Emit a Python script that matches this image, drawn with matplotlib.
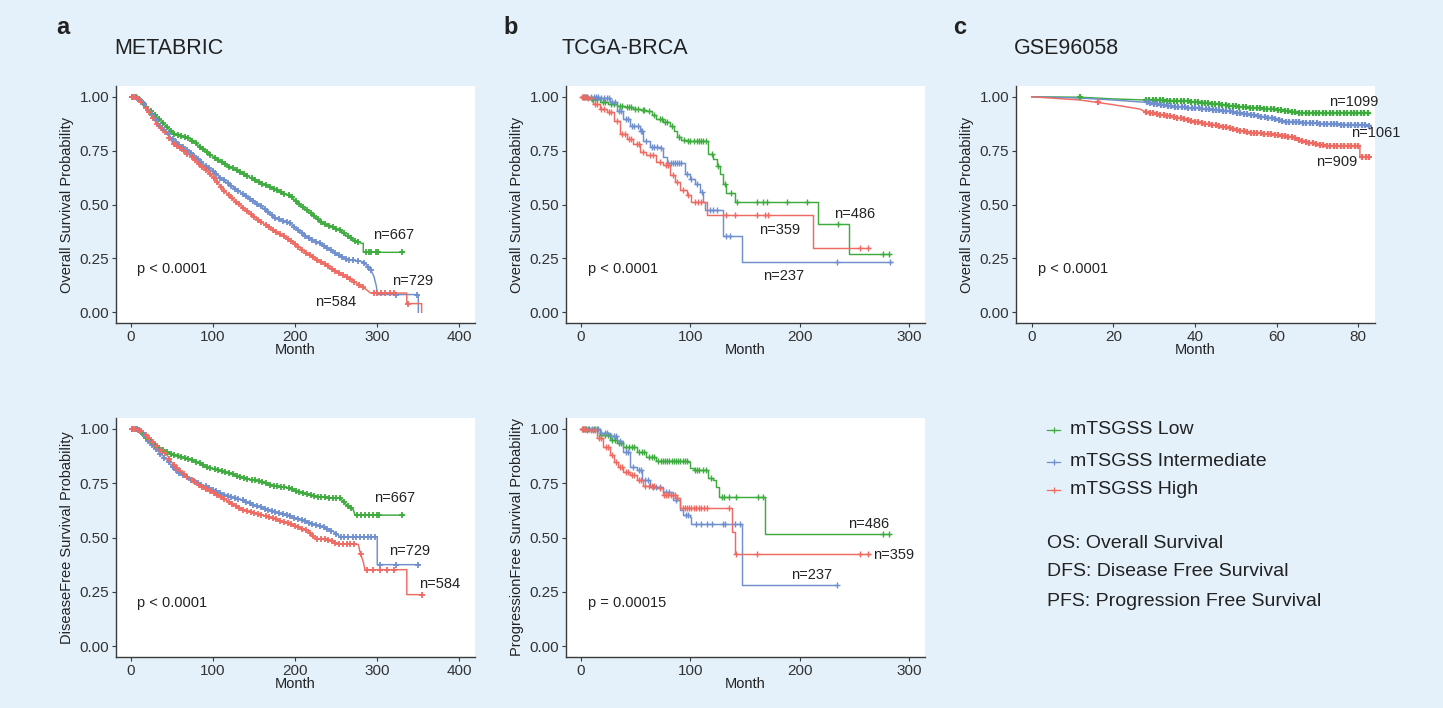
import numpy as np
import matplotlib
matplotlib.use("Agg")
import matplotlib.pyplot as plt
from matplotlib.lines import Line2D

plt.rcParams['font.family'] = ['Liberation Sans', 'DejaVu Sans']

# ---------------- data ----------------
groups = ['mTSGSS Low', 'mTSGSS Intermediate', 'mTSGSS High']
notes = ['OS: Overall Survival', 'DFS: Disease Free Survival', 'PFS: Progression Free Survival']
ytick_vals = [0.0, 0.25, 0.5, 0.75, 1.0]
ytick_labels = ['0.00', '0.25', '0.50', '0.75', '1.00']

# --- a: METABRIC OS ---
a_os_low_t = [0, 5, 12, 23.5, 35, 44, 52, 60, 72, 82, 92.5, 103, 113, 123, 133, 143, 153, 164, 174, 184, 194,
              204, 214, 224, 234, 245, 255, 263, 271, 281, 283, 283, 332]
a_os_low_s = [1.0, 1.0, 0.985, 0.935, 0.895, 0.86, 0.83, 0.82, 0.805, 0.775, 0.743, 0.715, 0.69, 0.67, 0.65,
              0.63, 0.61, 0.59, 0.574, 0.555, 0.54, 0.505, 0.474, 0.445, 0.412, 0.395, 0.38, 0.355, 0.335, 0.32,
              0.32, 0.278, 0.278]
a_os_low_c = [2, 6, 10, 15, 19, 24, 29, 34, 39, 44, 49, 53, 57, 61, 66, 70, 75, 79, 84, 88, 93, 97, 102, 106,
              111, 115, 120, 124, 129, 133, 138, 142, 147, 151, 156, 160, 165, 169, 174, 178, 183, 187, 192, 196,
              201, 205, 210, 214, 219, 223, 228, 232, 237, 241, 246, 250, 255, 259, 264, 268, 273, 277, 286, 290,
              293, 298, 301, 330]
a_os_int_t = [0, 5, 12, 23.5, 35, 44, 52, 62, 72, 82, 92.5, 103, 113, 123, 133, 143, 153, 164, 174, 184, 194,
              204, 214, 224, 234, 245, 255, 265, 281, 285, 292, 296, 299, 300, 350, 350]
a_os_int_s = [1.0, 1.0, 0.985, 0.928, 0.87, 0.835, 0.797, 0.77, 0.743, 0.71, 0.674, 0.645, 0.612, 0.585, 0.558,
              0.532, 0.505, 0.475, 0.443, 0.425, 0.412, 0.38, 0.35, 0.33, 0.312, 0.285, 0.258, 0.245, 0.235,
              0.228, 0.197, 0.166, 0.12, 0.082, 0.082, 0.0]
a_os_int_c = [3, 7, 11, 16, 21, 26, 31, 36, 41, 46, 51, 55, 59, 64, 68, 73, 77, 82, 86, 91, 95, 100, 104, 109,
              113, 118, 122, 127, 131, 136, 140, 145, 149, 154, 158, 163, 167, 172, 176, 181, 185, 190, 194, 199,
              203, 208, 212, 217, 221, 226, 230, 235, 239, 244, 248, 253, 257, 262, 266, 271, 276, 284, 289, 292,
              323, 349]
a_os_high_t = [0, 5, 12, 23.5, 35, 44, 52, 62, 72, 82, 92.5, 103, 113, 123, 133, 143, 153, 164, 174, 184, 194,
               204, 214, 224, 234, 245, 255, 265, 275, 285, 292, 336, 336, 354, 354]
a_os_high_s = [1.0, 1.0, 0.98, 0.92, 0.86, 0.828, 0.78, 0.755, 0.728, 0.69, 0.658, 0.615, 0.566, 0.53, 0.497,
               0.465, 0.435, 0.405, 0.38, 0.357, 0.335, 0.305, 0.274, 0.25, 0.228, 0.2, 0.18, 0.158, 0.135, 0.11,
               0.089, 0.089, 0.04, 0.04, 0.0]
a_os_high_c = [1, 5, 9, 13, 18, 22, 27, 32, 37, 42, 47, 52, 56, 60, 65, 69, 74, 78, 83, 87, 92, 96, 101, 105,
               110, 114, 119, 123, 128, 132, 137, 141, 146, 150, 155, 159, 164, 168, 173, 177, 182, 186, 191, 195,
               200, 204, 209, 213, 218, 222, 227, 231, 236, 240, 245, 249, 254, 258, 263, 267, 272, 278, 283, 296,
               300, 305, 310, 316, 320, 338]

# --- a: METABRIC DFS ---
a_dfs_low_t = [0, 5, 12, 23.5, 35, 44, 52, 62, 72, 82, 92.5, 103, 113, 123, 133, 143, 153, 164, 174, 184, 194,
               204, 214, 224, 234, 245, 255, 263, 268, 271, 273, 332]
a_dfs_low_s = [1.0, 1.0, 0.99, 0.94, 0.91, 0.895, 0.88, 0.87, 0.86, 0.845, 0.823, 0.812, 0.803, 0.792, 0.78,
               0.77, 0.762, 0.75, 0.737, 0.733, 0.726, 0.712, 0.698, 0.69, 0.685, 0.682, 0.68, 0.649, 0.635,
               0.626, 0.603, 0.603]
a_dfs_low_c = [2, 6, 10, 15, 19, 24, 29, 34, 39, 44, 49, 53, 57, 61, 66, 70, 75, 79, 84, 88, 93, 97, 102, 106,
               111, 115, 120, 124, 129, 133, 138, 142, 147, 151, 156, 160, 165, 169, 174, 178, 183, 187, 192, 196,
               201, 205, 210, 214, 219, 223, 228, 232, 237, 241, 246, 250, 255, 259, 264, 268, 275, 280, 285,
               290, 295, 300, 302, 330]
a_dfs_int_t = [0, 5, 12, 23.5, 35, 44, 52, 62, 72, 82, 92.5, 103, 113, 123, 133, 143, 153, 164, 174, 184, 194,
               204, 214, 224, 234, 247, 255, 300, 300, 352]
a_dfs_int_s = [1.0, 1.0, 0.99, 0.934, 0.89, 0.857, 0.818, 0.79, 0.768, 0.75, 0.734, 0.715, 0.695, 0.685, 0.675,
               0.66, 0.645, 0.632, 0.618, 0.608, 0.598, 0.585, 0.572, 0.56, 0.549, 0.526, 0.503, 0.503, 0.375,
               0.375]
a_dfs_int_c = [3, 7, 11, 16, 21, 26, 31, 36, 41, 46, 51, 55, 59, 64, 68, 73, 77, 82, 86, 91, 95, 100, 104, 109,
               113, 118, 122, 127, 131, 136, 140, 145, 149, 154, 158, 163, 167, 172, 176, 181, 185, 190, 194, 199,
               203, 208, 212, 217, 221, 226, 230, 235, 239, 244, 250, 256, 260, 265, 270, 274, 279, 284, 289,
               293, 297, 303, 323, 350]
a_dfs_high_t = [0, 5, 14, 23.5, 35, 44, 52, 62, 72, 82, 92.5, 103, 113, 123, 133, 143, 153, 164, 174, 184, 194,
                204, 214, 226, 243, 251, 277, 279, 283, 285, 336, 336, 356]
a_dfs_high_s = [1.0, 1.0, 0.99, 0.952, 0.91, 0.88, 0.834, 0.8, 0.772, 0.745, 0.721, 0.7, 0.68, 0.655, 0.634,
                0.62, 0.611, 0.6, 0.588, 0.575, 0.562, 0.548, 0.534, 0.495, 0.488, 0.472, 0.468, 0.434, 0.388,
                0.352, 0.352, 0.237, 0.237]
a_dfs_high_c = [1, 5, 9, 13, 18, 22, 27, 32, 37, 42, 47, 52, 56, 60, 65, 69, 74, 78, 83, 87, 92, 96, 101, 105,
                110, 114, 119, 123, 128, 132, 137, 141, 146, 150, 155, 159, 164, 168, 173, 177, 182, 186, 191, 195,
                200, 204, 209, 213, 218, 222, 227, 231, 236, 240, 245, 249, 254, 258, 263, 267, 272, 280, 288,
                295, 303, 312, 320, 354]

# --- b: TCGA-BRCA OS ---
b_os_low_t = [0, 8, 17.6, 25, 33, 40, 48, 55, 60, 65, 69, 75, 81.5, 85, 87.6, 92, 96.7, 116, 121, 124, 127,
              130, 133, 141, 217, 245, 282]
b_os_low_s = [1.0, 0.99, 0.978, 0.965, 0.958, 0.952, 0.943, 0.94, 0.935, 0.915, 0.897, 0.885, 0.866, 0.84,
              0.812, 0.8, 0.794, 0.735, 0.712, 0.68, 0.643, 0.597, 0.555, 0.512, 0.41, 0.27, 0.27]
b_os_low_c = [3, 6, 10, 13, 15, 20, 22, 28, 30, 36, 38, 42, 44, 46, 50, 52, 57, 58, 62, 67, 72, 74, 77, 79, 83,
              90, 94, 98, 100, 103, 106, 108, 110, 112, 114, 120, 125, 132, 137, 143, 161, 166, 170, 188, 207,
              235, 276, 281]
b_os_int_t = [0, 8.5, 17.6, 27, 33, 39, 45, 54, 57, 63, 72, 75.5, 78.5, 95, 100, 104, 109, 112, 113.5, 130,
              147, 284]
b_os_int_s = [1.0, 1.0, 0.994, 0.974, 0.935, 0.897, 0.866, 0.843, 0.797, 0.766, 0.763, 0.72, 0.692, 0.643, 0.62,
              0.597, 0.558, 0.512, 0.474, 0.354, 0.235, 0.235]
b_os_int_c = [2, 5, 9, 12, 14, 16, 19, 21, 24, 26, 29, 31, 35, 37, 41, 43, 47, 49, 52, 55, 56, 60, 65, 67, 70,
              73, 80, 82, 84, 86, 88, 90, 92, 97, 101, 106, 111, 118, 121, 124, 133, 136, 234, 282]
b_os_high_t = [0, 5.5, 11.6, 17.6, 23.7, 30, 36, 42, 48, 54, 60, 69, 75.5, 81.5, 86, 90.7, 96.7, 101, 115, 212,
               264]
b_os_high_s = [1.0, 0.994, 0.966, 0.943, 0.928, 0.889, 0.828, 0.805, 0.782, 0.743, 0.728, 0.697, 0.682, 0.635,
               0.605, 0.566, 0.543, 0.512, 0.45, 0.30, 0.30]
b_os_high_c = [1, 3, 4, 7, 9, 13, 15, 19, 21, 26, 28, 33, 38, 40, 44, 46, 51, 53, 57, 63, 66, 72, 78, 80, 84,
               88, 93, 98, 104, 107, 110, 133, 141, 161, 168, 171, 255, 262]

# --- b: TCGA-BRCA PFS ---
b_pfs_low_t = [0, 8.5, 17.6, 27, 33, 39, 51, 60, 69, 98, 100, 103, 116.5, 121, 123.5, 126.5, 168, 282]
b_pfs_low_s = [1.0, 0.998, 0.972, 0.949, 0.934, 0.918, 0.895, 0.872, 0.852, 0.849, 0.818, 0.811, 0.772, 0.765,
               0.734, 0.688, 0.515, 0.515]
b_pfs_low_c = [2, 5, 8, 12, 15, 19, 22, 25, 29, 31, 35, 37, 41, 44, 47, 49, 53, 56, 58, 62, 65, 67, 71, 73, 75,
               77, 79, 81, 83, 85, 87, 89, 91, 93, 95, 97, 104, 106, 108, 112, 114, 119, 129, 131, 135, 142, 162,
               166, 276, 281]
b_pfs_int_t = [0, 8.5, 17.6, 27, 33, 39, 45, 51, 56, 63, 75.5, 84.6, 90.7, 93.7, 100, 101, 147, 234]
b_pfs_int_s = [1.0, 0.998, 0.98, 0.965, 0.942, 0.895, 0.826, 0.811, 0.765, 0.734, 0.711, 0.672, 0.626, 0.603,
               0.595, 0.562, 0.28, 0.28]
b_pfs_int_c = [2, 4, 7, 10, 13, 16, 19, 22, 24, 28, 30, 32, 36, 41, 43, 48, 53, 55, 59, 61, 66, 69, 72, 78, 81,
               87, 96, 98, 105, 110, 115, 120, 130, 132, 141, 145, 234]
b_pfs_high_t = [0, 5.5, 14.6, 20.7, 27, 30, 34, 39, 45, 51, 57, 69, 75.5, 87.6, 90.7, 138, 141, 264]
b_pfs_high_s = [1.0, 0.995, 0.957, 0.918, 0.88, 0.849, 0.826, 0.803, 0.788, 0.765, 0.737, 0.726, 0.695, 0.68,
                0.634, 0.526, 0.423, 0.423]
b_pfs_high_c = [1, 3, 4, 6, 9, 11, 13, 17, 19, 23, 25, 29, 32, 36, 38, 41, 43, 47, 49, 53, 55, 59, 62, 65, 67,
                72, 76, 78, 80, 82, 84, 86, 88, 93, 95, 97, 99, 101, 103, 105, 108, 110, 113, 115, 135, 142, 161,
                255, 262]

# --- c: GSE96058 OS ---
c_os_low_t = [0, 11.8, 20, 28, 38, 43, 48, 54, 59, 64, 66, 83]
c_os_low_s = [1.0, 0.998, 0.99, 0.985, 0.98, 0.97, 0.96, 0.948, 0.943, 0.93, 0.923, 0.923]
c_os_low_c = [11.8, 28, 28.8, 29.7, 30.5, 31.4, 32.2, 33.1, 33.9, 34.8, 35.6, 36.5, 37.3, 38.2, 39, 39.9, 40.7,
              41.6, 42.4, 43.3, 44.1, 45, 45.8, 46.7, 47.5, 48.4, 49.2, 50.1, 50.9, 51.8, 52.6, 53.5, 54.3, 55.2,
              56, 56.9, 57.7, 58.6, 59.4, 60.3, 61.1, 62, 62.8, 63.7, 64.5, 65.4, 66.2, 67.1, 67.9, 68.8, 69.6,
              70.5, 71.3, 72.2, 73, 73.9, 74.7, 75.6, 76.4, 77.3, 78.1, 79, 79.8, 80.7, 81.5, 82.4]
c_os_int_t = [0, 11.8, 20, 28, 34.7, 43, 48.6, 54, 59, 61.6, 67, 72, 83]
c_os_int_s = [1.0, 0.994, 0.985, 0.974, 0.955, 0.943, 0.932, 0.915, 0.9, 0.885, 0.88, 0.874, 0.866]
c_os_int_c = [28.2, 29, 29.9, 30.7, 31.6, 32.4, 33.3, 34.1, 35, 35.8, 36.7, 37.5, 38.4, 39.2, 40.1, 40.9, 41.8,
              42.6, 43.5, 44.3, 45.2, 46, 46.9, 47.7, 48.6, 49.4, 50.3, 51.1, 52, 52.8, 53.7, 54.5, 55.4, 56.2,
              57.1, 57.9, 58.8, 59.6, 60.5, 61.3, 62.2, 63, 63.9, 64.7, 65.6, 66.4, 67.3, 68.1, 69, 69.8, 70.7,
              71.5, 72.4, 73.2, 74.1, 74.9, 75.8, 76.6, 77.5, 78.3, 79.2, 80, 80.9, 81.7, 82.6]
c_os_high_t = [0, 11.8, 16, 20, 26.5, 28, 34.7, 41, 48, 52.7, 59, 64, 67, 72, 74, 80.4, 80.4, 83]
c_os_high_s = [1.0, 0.985, 0.974, 0.963, 0.943, 0.928, 0.908, 0.88, 0.858, 0.835, 0.825, 0.812, 0.79, 0.774,
               0.77, 0.77, 0.72, 0.72]
c_os_high_c = [16.2, 28.1, 28.9, 29.8, 30.6, 31.5, 32.3, 33.2, 34, 34.9, 35.7, 36.6, 37.4, 38.3, 39.1, 40, 40.8,
               41.7, 42.5, 43.4, 44.2, 45.1, 45.9, 46.8, 47.6, 48.5, 49.3, 50.2, 51, 51.9, 52.7, 53.6, 54.4, 55.3,
               56.1, 57, 57.8, 58.7, 59.5, 60.4, 61.2, 62.1, 62.9, 63.8, 64.6, 65.5, 66.3, 67.2, 68, 68.9, 69.7,
               70.6, 71.4, 72.3, 73.1, 74, 74.8, 75.7, 76.5, 77.4, 78.2, 79.1, 79.9, 81, 81.8, 82.6]

# ---------------- style ----------------
W, H = 1443, 708
BG = '#e4f1fa'
COLORS = ['#3dab3d', '#6f8fcf', '#ee6b63']
TXT = '#222222'
AX_COL = '#3a3a3a'


def px_rect(x0, y0, x1, y1):
    return [x0 / W, 1 - y1 / H, (x1 - x0) / W, (y1 - y0) / H]


def surv_at(tc, ts, ss, step):
    tc = np.asarray(tc, float)
    ts = np.asarray(ts, float)
    ss = np.asarray(ss, float)
    if step:
        idx = np.searchsorted(ts, tc, side='right') - 1
        return ss[np.clip(idx, 0, len(ss) - 1)]
    return np.interp(tc, ts, ss)


def draw_panel(ax, curves, step, xlim, xticks, ylabel, ptext, labels, ms=4.5, mew=1.3):
    for (ts, ss, cs), col in zip(curves, COLORS):
        ax.plot(ts, ss, color=col, lw=1.05, drawstyle='steps-post' if step else 'default', zorder=2)
        ax.plot(cs, surv_at(cs, ts, ss, step), ls='none', marker='+', ms=ms, mew=mew, color=col, zorder=3)
    ax.set_xlim(*xlim)
    ax.set_ylim(-0.05, 1.05)
    ax.set_facecolor('white')
    for s in ['top', 'right']:
        ax.spines[s].set_visible(False)
    for s in ['left', 'bottom']:
        ax.spines[s].set_color(AX_COL)
        ax.spines[s].set_linewidth(1.0)
    ax.set_yticks(ytick_vals)
    ax.set_yticklabels(ytick_labels)
    ax.set_xticks(xticks)
    ax.tick_params(length=3, width=0.8, color=AX_COL, labelsize=11, labelcolor='#333333', pad=2)
    ax.set_xlabel('Month', fontsize=10.5, labelpad=-1, color=TXT)
    ax.set_ylabel(ylabel, fontsize=10.5, labelpad=4, color=TXT)
    ax.text(ptext[0], ptext[1], ptext[2], fontsize=10.5, ha='left', va='center', color=TXT)
    for (x, y, s) in labels:
        ax.text(x, y, s, fontsize=10.5, ha='center', va='center', color=TXT, clip_on=False)


fig = plt.figure(figsize=(W / 100, H / 100), dpi=100, facecolor=BG)

cols_px = [(116, 475), (566, 925), (1016, 1375)]
top_px = (86, 323)
bot_px = (418, 657)

# a top
ax = fig.add_axes(px_rect(cols_px[0][0], top_px[0], cols_px[0][1], top_px[1]))
draw_panel(ax, [(a_os_low_t, a_os_low_s, a_os_low_c), (a_os_int_t, a_os_int_s, a_os_int_c),
                (a_os_high_t, a_os_high_s, a_os_high_c)], False, (-18, 419), [0, 100, 200, 300, 400],
           'Overall Survival Probability', (7, 0.2, 'p < 0.0001'),
           [(320, 0.358, 'n=667'), (343, 0.143, 'n=729'), (249, 0.048, 'n=584')])
# a bottom
ax = fig.add_axes(px_rect(cols_px[0][0], bot_px[0], cols_px[0][1], bot_px[1]))
draw_panel(ax, [(a_dfs_low_t, a_dfs_low_s, a_dfs_low_c), (a_dfs_int_t, a_dfs_int_s, a_dfs_int_c),
                (a_dfs_high_t, a_dfs_high_s, a_dfs_high_c)], False, (-18, 419), [0, 100, 200, 300, 400],
           'DiseaseFree Survival Probability', (7, 0.198, 'p < 0.0001'),
           [(321, 0.68, 'n=667'), (339, 0.438, 'n=729'), (376, 0.288, 'n=584')])
# b top
ax = fig.add_axes(px_rect(cols_px[1][0], top_px[0], cols_px[1][1], top_px[1]))
draw_panel(ax, [(b_os_low_t, b_os_low_s, b_os_low_c), (b_os_int_t, b_os_int_s, b_os_int_c),
                (b_os_high_t, b_os_high_s, b_os_high_c)], True, (-13.4, 314.3), [0, 100, 200, 300],
           'Overall Survival Probability', (6.4, 0.2, 'p < 0.0001'),
           [(250, 0.458, 'n=486'), (182, 0.382, 'n=359'), (185.6, 0.166, 'n=237')], ms=5, mew=1.0)
# b bottom
ax = fig.add_axes(px_rect(cols_px[1][0], bot_px[0], cols_px[1][1], bot_px[1]))
draw_panel(ax, [(b_pfs_low_t, b_pfs_low_s, b_pfs_low_c), (b_pfs_int_t, b_pfs_int_s, b_pfs_int_c),
                (b_pfs_high_t, b_pfs_high_s, b_pfs_high_c)], True, (-13.4, 314.3), [0, 100, 200, 300],
           'ProgressionFree Survival Probability', (6.4, 0.198, 'p = 0.00015'),
           [(262.5, 0.562, 'n=486'), (286, 0.418, 'n=359'), (211, 0.326, 'n=237')], ms=5, mew=1.0)
# c top
ax = fig.add_axes(px_rect(cols_px[2][0], top_px[0], cols_px[2][1], top_px[1]))
draw_panel(ax, [(c_os_low_t, c_os_low_s, c_os_low_c), (c_os_int_t, c_os_int_s, c_os_int_c),
                (c_os_high_t, c_os_high_s, c_os_high_c)], False, (-3.85, 84.1), [0, 20, 40, 60, 80],
           'Overall Survival Probability', (1.6, 0.2, 'p < 0.0001'),
           [(78.8, 0.974, 'n=1099'), (84.2, 0.83, 'n=1061'), (74.7, 0.697, 'n=909')], ms=5, mew=1.6)

# panel letters and titles
for letter, lx, title, tx in [('a', 63, 'METABRIC', 114), ('b', 511, 'TCGA-BRCA', 562), ('c', 960, 'GSE96058', 1014)]:
    fig.text(lx / W, 1 - 27 / H, letter, fontsize=17, fontweight='bold', ha='center', va='center', color=TXT)
    fig.text(tx / W, 1 - 48 / H, title, fontsize=15.5, ha='left', va='center', color=TXT)

# legend
for lab, col, yp in zip(groups, COLORS, [430, 462, 490]):
    fig.add_artist(Line2D([1047 / W, 1060 / W], [1 - yp / H, 1 - yp / H], transform=fig.transFigure,
                          color=col, lw=0.9))
    fig.add_artist(Line2D([1053.5 / W], [1 - yp / H], transform=fig.transFigure, color=col,
                          marker='+', ms=4.5, mew=0.9, ls='none'))
    fig.text(1070 / W, 1 - yp / H, lab, fontsize=14, ha='left', va='center', color=TXT)
for note, yp in zip(notes, [543, 572, 601]):
    fig.text(1047 / W, 1 - yp / H, note, fontsize=14, ha='left', va='center', color=TXT)

fig.savefig('out.png', dpi=100, facecolor=BG)
